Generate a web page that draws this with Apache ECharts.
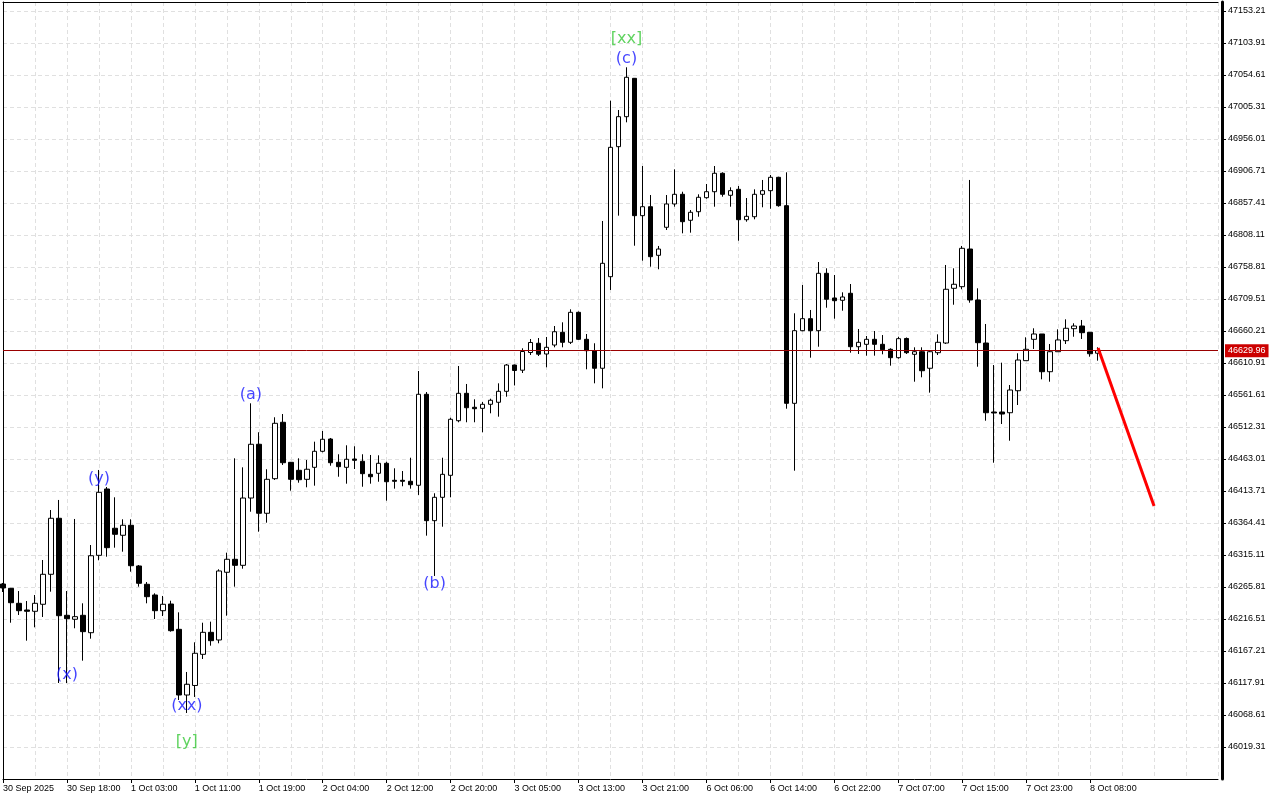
<!DOCTYPE html>
<html>
<head>
<meta charset="utf-8">
<script src="https://cdn.jsdelivr.net/npm/echarts@6/dist/echarts.min.js"></script>
<style>html,body{margin:0;padding:0;background:#fff}#chart{width:1280px;height:800px}</style>
</head>
<body>
<div id="chart"></div>
<script>
// Trading sessions (day label, first hour, last hour) -> hourly categories
const sessions = [['30 Sep',10,23],['1 Oct',1,23],['2 Oct',1,23],['3 Oct',1,23],['6 Oct',1,23],['7 Oct',1,23],['8 Oct',1,9]];
const firstLabel = '30 Sep 2025';
const futureSlots = 15;

const openP = [46270.4,46263.8,46240.7,46230.4,46228.4,46239.2,46285.4,46371.7,46222.2,46216.1,46222.2,46195.4,46314.6,46416.8,46356.3,46345.5,46360.9,46298.2,46270.0,46253.5,46229.3,46239.6,46200.6,46099.4,46114.1,46162.1,46196.0,46184.2,46288.5,46308.5,46299.2,46402.9,46485.7,46379.4,46432.7,46519.6,46457.9,46445.6,46431.7,46450.2,46474.9,46493.8,46457.9,46450.2,46463.0,46459.5,46439.4,46441.0,46456.4,46430.2,46430.2,46428.7,46422.5,46562.7,46368.0,46404.0,46437.9,46522.0,46564.2,46542.7,46541.1,46547.3,46550.4,46567.3,46607.8,46599.8,46627.1,46641.3,46624.8,46638.6,46658.2,46642.8,46689.0,46647.4,46629.9,46602.8,46743.9,46944.2,46990.4,47049.5,46837.9,46851.7,46776.8,46820.0,46855.9,46870.8,46830.8,46844.0,46865.6,46874.8,46903.2,46869.3,46878.5,46831.7,46836.3,46870.8,46876.4,46897.0,46853.3,46548.8,46660.7,46679.2,46660.7,46749.1,46711.1,46707.5,46718.3,46636.0,46639.7,46647.4,46639.7,46632.0,46619.1,46648.7,46624.3,46628.3,46602.8,46626.8,46641.7,46726.0,46728.5,46786.5,46708.0,46641.7,46535.4,46535.4,46534.3,46568.2,46614.5,46647.4,46655.6,46597.5,46628.3,46645.3,46663.8,46667.9,46658.2,46626.0];
const highP = [46272.0,46264.3,46259.6,46244.2,46253.5,46307.4,46384.4,46399.9,46259.6,46370.6,46240.7,46330.5,46446.1,46419.9,46404.0,46370.1,46370.1,46299.7,46273.5,46256.1,46252.0,46244.7,46226.8,46134.9,46180.6,46210.8,46212.4,46293.1,46318.7,46464.1,46450.2,46548.8,46504.2,46447.2,46527.3,46532.3,46458.4,46464.1,46461.5,46489.7,46506.2,46495.4,46470.3,46484.1,46482.6,46470.3,46469.2,46468.7,46458.9,46448.7,46444.5,46465.0,46598.6,46566.2,46410.2,46465.0,46526.6,46606.3,46578.6,46555.0,46550.8,46555.9,46579.6,46609.4,46608.6,46633.6,46647.9,46649.4,46651.0,46667.9,46673.6,46693.6,46690.3,46655.6,46641.3,46829.7,47015.0,47000.7,47066.5,47050.0,46914.4,46869.7,46791.2,46869.7,46909.3,46874.8,46846.6,46870.8,46886.7,46914.4,46904.7,46881.6,46883.6,46865.1,46878.5,46892.9,46900.6,46897.9,46904.7,46687.5,46731.1,46692.6,46766.5,46756.8,46746.5,46719.8,46732.6,46663.3,46652.5,46660.2,46654.0,46633.6,46651.4,46650.2,46635.1,46635.1,46630.9,46655.1,46761.9,46756.8,46791.2,46892.9,46726.0,46671.0,46607.8,46611.4,46577.0,46625.9,46650.5,46664.4,46655.6,46640.2,46662.8,46678.2,46672.1,46677.2,46658.2,46635.1];
const lowP = [46258.1,46210.8,46222.7,46183.1,46203.7,46219.6,46258.6,46117.9,46117.9,46202.2,46152.3,46186.2,46307.0,46312.5,46326.4,46320.2,46289.4,46266.3,46240.7,46216.5,46221.1,46197.0,46091.7,46071.7,46096.4,46154.9,46175.4,46179.1,46221.6,46266.3,46294.0,46381.8,46351.0,46364.9,46430.7,46453.8,46414.2,46426.5,46419.4,46421.9,46473.3,46452.7,46435.7,46425.0,46447.6,46420.3,46425.0,46428.0,46398.8,46417.3,46421.0,46417.3,46407.6,46344.9,46282.8,46358.7,46404.0,46519.6,46519.6,46519.6,46504.2,46533.4,46528.2,46559.0,46576.3,46595.5,46623.2,46621.7,46604.3,46635.1,46635.1,46640.2,46646.4,46601.2,46579.6,46571.9,46723.4,46837.9,46981.7,46791.6,46768.5,46759.3,46755.3,46815.8,46851.7,46810.7,46811.7,46836.3,46864.0,46851.7,46867.1,46851.7,46799.3,46828.6,46832.3,46850.8,46848.6,46851.7,46540.5,46445.0,46659.8,46619.1,46636.0,46696.1,46679.2,46691.5,46626.8,46624.8,46622.2,46622.2,46624.3,46606.8,46617.5,46624.8,46582.1,46588.9,46565.2,46623.2,46640.2,46700.7,46724.5,46703.8,46605.2,46522.0,46457.3,46516.9,46491.2,46546.2,46614.5,46632.5,46585.8,46582.1,46628.3,46640.2,46651.4,46647.9,46620.6,46614.5];
const closeP = [46264.3,46241.6,46229.3,46228.4,46240.7,46285.4,46371.7,46221.6,46217.0,46220.1,46197.0,46314.0,46411.7,46326.4,46347.0,46360.9,46298.6,46271.5,46250.9,46229.3,46239.2,46198.5,46099.4,46115.9,46163.7,46196.0,46183.1,46290.5,46308.5,46299.2,46402.9,46485.7,46379.4,46431.7,46518.0,46457.3,46431.7,46431.1,46447.2,46474.9,46493.4,46457.3,46451.2,46462.6,46461.0,46440.4,46435.7,46456.4,46428.0,46428.7,46428.7,46423.4,46562.7,46368.0,46404.0,46439.4,46524.2,46564.2,46542.0,46540.5,46547.3,46553.5,46567.3,46607.8,46599.4,46628.6,46642.5,46624.5,46635.1,46659.1,46642.8,46689.0,46647.4,46629.9,46602.8,46764.5,46943.2,46990.4,47051.1,46837.9,46851.7,46774.7,46786.5,46855.9,46870.8,46828.6,46843.1,46866.2,46874.8,46903.2,46870.8,46876.4,46831.7,46836.9,46870.8,46876.4,46897.0,46853.3,46548.8,46660.7,46679.2,46660.7,46749.1,46709.1,46706.9,46712.6,46636.0,46642.8,46647.4,46639.7,46631.4,46619.1,46648.4,46626.8,46628.3,46599.0,46628.3,46642.8,46724.5,46732.2,46787.6,46708.0,46642.2,46534.3,46533.9,46532.3,46569.3,46615.5,46632.0,46655.6,46597.5,46628.3,46646.4,46664.4,46667.9,46657.6,46625.2,46629.96];

const yTickStart = 45970.01;
const yTickStep = 49.3;
const yTop = 47167.08;
const lastPrice = 46629.96;

const waveBlueText = ['(x)','(y)','(xx)','(a)','(b)','(c)'];
const waveBlueIdx = [8,12,23,31,54,78];
const waveBluePrice = [46130.2,46432.2,46083.3,46561.6,46270.4,47079.3];
const waveGreenText = ['[y]','[xx]'];
const waveGreenIdx = [23,78];
const waveGreenPrice = [46027.0,47110.1];

const arrowIdx = [137,144];
const arrowPrice = [46634.0,46390.6];

// ---- build categories
const categories = [];
sessions.forEach(function(s){
  for (let h = s[1]; h <= s[2]; h++) categories.push(s[0] + ' ' + (h < 10 ? '0' + h : h) + ':00');
});
const nBars = categories.length;
for (let i = 0; i < futureSlots; i++) categories.push('future ' + i);

const candleData = openP.map(function(o, i){ return [o, closeP[i], lowP[i], highP[i]]; });
const blueData = waveBlueIdx.map(function(x, i){ return {value: [x, waveBluePrice[i]], name: waveBlueText[i]}; });
const greenData = waveGreenIdx.map(function(x, i){ return {value: [x, waveGreenPrice[i]], name: waveGreenText[i]}; });
const arrowData = arrowIdx.map(function(x, i){ return [x, arrowPrice[i]]; });

const FONT = 'Liberation Sans';
const showTick = function(index){ return index % 8 === 0 && index < nBars; };
const frameLine = {show: true, lineStyle: {color: '#000', width: 1}};
const GRID = '#e0e0e0';

const chart = echarts.init(document.getElementById('chart'), null, {renderer: 'canvas'});
chart.setOption({
  animation: false,
  backgroundColor: '#ffffff',
  grid: {left: 2, right: 62, top: 2, bottom: 21, show: false},
  xAxis: [{
    type: 'category',
    data: categories,
    boundaryGap: false,
    max: categories.length - 1,
    axisLine: frameLine,
    axisTick: {show: true, interval: showTick, length: 4, lineStyle: {color: '#000'}},
    axisLabel: {
      show: true, interval: showTick, align: 'left', margin: 5,
      fontFamily: FONT, fontSize: 9, color: '#000',
      formatter: function(v, i){ return i === 0 ? firstLabel : v; }
    },
    splitLine: {show: true, interval: function(i){ return i % 4 === 0; }, lineStyle: {color: GRID, type: [4,3], width: 1}}
  }, {
    type: 'category',
    data: categories,
    boundaryGap: false,
    max: categories.length - 1,
    position: 'top',
    axisLine: frameLine,
    axisTick: {show: false}, axisLabel: {show: false}, splitLine: {show: false}
  }],
  yAxis: [{
    type: 'value',
    position: 'right',
    offset: 4,
    scale: true,
    min: yTickStart,
    max: yTop,
    interval: yTickStep,
    axisLine: {show: true, lineStyle: {color: '#000', width: 3}},
    axisTick: {show: true, length: 4, lineStyle: {color: '#000'}},
    axisLabel: {
      show: true, margin: 6, fontFamily: FONT, fontSize: 9, color: '#000',
      showMinLabel: false, showMaxLabel: false,
      formatter: function(v){ return v.toFixed(2); }
    },
    splitLine: {show: true, lineStyle: {color: GRID, type: [4,3], width: 1}}
  }, {
    type: 'value',
    position: 'left',
    scale: true,
    min: yTickStart,
    max: yTop,
    interval: yTickStep,
    axisLine: frameLine,
    axisTick: {show: false}, axisLabel: {show: false}, splitLine: {show: false}
  }],
  series: [
    {
      type: 'candlestick',
      data: candleData,
      barWidth: 5,
      itemStyle: {color: '#ffffff', color0: '#000000', borderColor: '#000000', borderColor0: '#000000', borderWidth: 1},
      markLine: {
        silent: true,
        symbol: ['none','none'],
        data: [{yAxis: lastPrice}],
        lineStyle: {color: '#9a0000', width: 1, type: 'solid'},
        label: {
          show: true, position: 'end', distance: 7,
          formatter: function(){ return lastPrice.toFixed(2); },
          backgroundColor: '#cc0000', color: '#fff', fontFamily: FONT, fontSize: 9,
          padding: [2,3,1,3], lineHeight: 10
        }
      }
    },
    {
      type: 'line',
      data: arrowData,
      symbol: 'none',
      lineStyle: {color: '#ff0000', width: 3},
      silent: true,
      z: 5
    },
    {
      type: 'scatter',
      data: blueData,
      symbolSize: 0,
      silent: true,
      label: {show: true, position: 'inside', formatter: '{b}', color: '#1515ff', fontFamily: 'DejaVu Sans', fontSize: 16},
      z: 6
    },
    {
      type: 'scatter',
      data: greenData,
      symbolSize: 0,
      silent: true,
      label: {show: true, position: 'inside', formatter: '{b}', color: '#38c838', fontFamily: 'DejaVu Sans', fontSize: 16},
      z: 6
    }
  ]
});
</script>
</body>
</html>
